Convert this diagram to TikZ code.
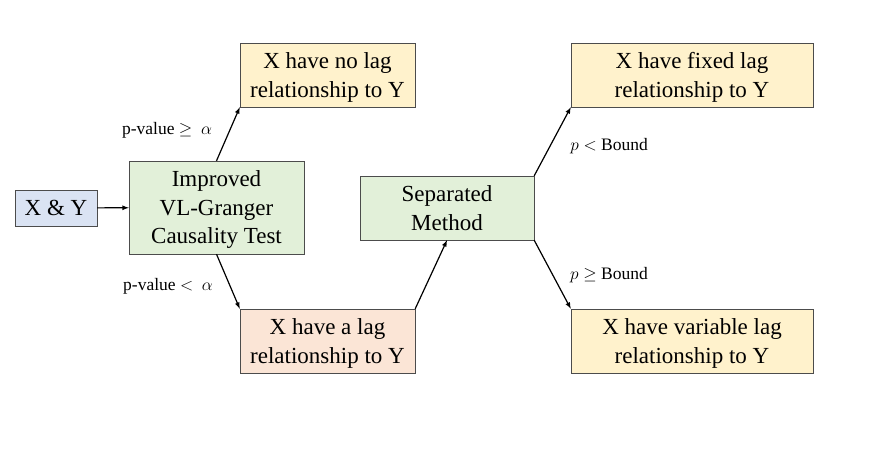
\documentclass[tikz,border=0pt]{standalone}
\usepackage{fontspec}
\setmainfont{Liberation Serif}
\usepackage{tikz}

\definecolor{xyblue}{HTML}{DAE3F3}
\definecolor{testgreen}{HTML}{E2F0D9}
\definecolor{resyellow}{HTML}{FFF2CC}
\definecolor{lagpeach}{HTML}{FBE5D6}

\begin{document}
\begin{tikzpicture}[x=1pt, y=-1pt, >=latex,
    box/.style={rectangle, draw=black!70, fill=#1, align=center, inner sep=0pt,
        text depth=0pt, font=\fontsize{23}{28.5}\selectfont},
    lbl/.style={font=\fontsize{17.5}{19}\selectfont}]

    \useasboundingbox (0,0) rectangle (889,460);

    \node[box=xyblue, minimum width=82pt, minimum height=36pt] (XY) at (56,208) {X \& Y};
    \node[box=testgreen, minimum width=175pt, minimum height=93pt] (VLG) at (216.5,207.5) {Improved\\VL-Granger\\Causality Test};
    \node[box=resyellow, minimum width=175pt, minimum height=64pt] (NOLAG) at (327.5,75) {X have no lag\\relationship to Y};
    \node[box=lagpeach, minimum width=175pt, minimum height=64pt] (LAG) at (327.5,341) {X have a lag\\relationship to Y};
    \node[box=testgreen, minimum width=174pt, minimum height=64pt] (SEP) at (447,208) {Separated\\Method};
    \node[box=resyellow, minimum width=242pt, minimum height=64pt] (FIXED) at (692,75) {X have fixed lag\\relationship to Y};
    \node[box=resyellow, minimum width=242pt, minimum height=64pt] (VAR) at (692,341) {X have variable lag\\relationship to Y};

    \node[lbl] (GE) at (167,130) {p-value $\geq$~ $\alpha$};
    \node[lbl] (LT) at (168,286) {p-value $<$~ $\alpha$};
    \node[lbl] (PLT) at (609,146) {$p<$ Bound};
    \node[lbl] (PGE) at (609,275) {$p\geq$ Bound};

    \draw[->, line width=1.2pt] (XY) -- (VLG);
    \draw[->, line width=1.2pt] (VLG.north) -- (NOLAG.south west);
    \draw[->, line width=1.2pt] (VLG.south) -- (LAG.north west);
    \draw[->, line width=1.2pt] (LAG.north east) -- (SEP.south);
    \draw[->, line width=1.2pt] (SEP.north east) -- (FIXED.south west);
    \draw[->, line width=1.2pt] (SEP.south east) -- (VAR.north west);
\end{tikzpicture}
\end{document}
